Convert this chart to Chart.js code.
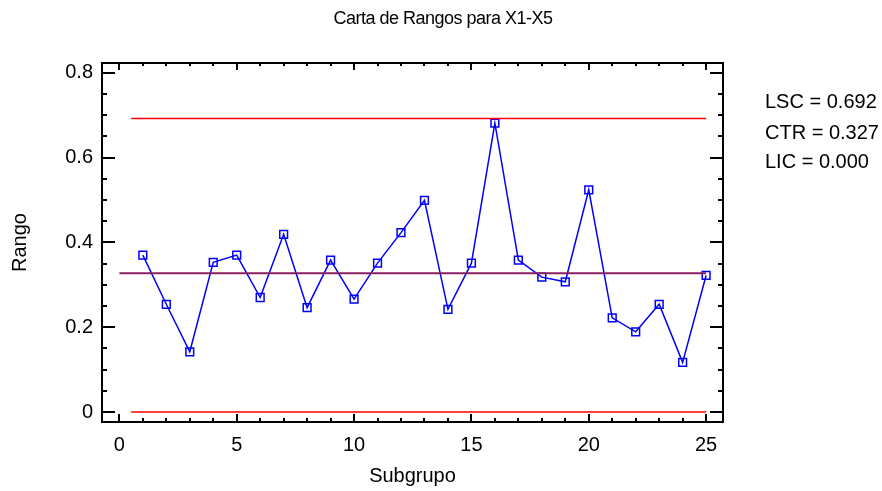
<!DOCTYPE html>
<html><head><meta charset="utf-8">
<script src="https://cdn.jsdelivr.net/npm/chart.js@4/dist/chart.umd.min.js"></script>
<style>html,body{margin:0;padding:0;background:#fff;overflow:hidden}</style>
</head><body>
<canvas id="c" width="882" height="491"></canvas>
<script>
// ---- data ----
const subgroups = [1,2,3,4,5,6,7,8,9,10,11,12,13,14,15,16,17,18,19,20,21,22,23,24,25];
const ranges = [0.370,0.254,0.142,0.353,0.370,0.270,0.419,0.246,0.358,0.266,0.351,0.423,0.499,0.242,0.351,0.681,0.358,0.318,0.307,0.524,0.222,0.189,0.254,0.117,0.322];
const lsc = 0.692, ctr = 0.327, lic = 0.000;
const limitStart = 0.5, centerStart = 0, limitEnd = 25;
const xTickValues = [0,5,10,15,20,25];
const yTickValues = [0,0.2,0.4,0.6,0.8];
const xMinorStep = 1, yMinorStep = 0.05;
const chartTitle = 'Carta de Rangos para X1-X5';
const xTitle = 'Subgrupo', yTitle = 'Rango';
const legendLabels = ['LSC', 'CTR', 'LIC'];
const legendValues = [lsc, ctr, lic];

const FONT = "'Liberation Sans', Arial, sans-serif";

const decor = {
  id: 'decor',
  afterDraw(chart) {
    const {ctx, chartArea: {left, right, top, bottom}, scales: {x, y}} = chart;
    ctx.save();
    ctx.strokeStyle = '#000';
    ctx.lineWidth = 2;
    ctx.beginPath();
    const nx = Math.round((xTickValues[xTickValues.length-1] - xTickValues[0]) / xMinorStep);
    for (let i = 0; i <= nx; i++) {
      const v = xTickValues[0] + i * xMinorStep;
      const major = xTickValues.includes(v);
      const px = Math.round(x.getPixelForValue(v));
      ctx.moveTo(px, bottom); ctx.lineTo(px, bottom - (major ? 8 : 4));
      ctx.moveTo(px, top); ctx.lineTo(px, top + (major ? 7 : 3));
    }
    const ny = Math.round((yTickValues[yTickValues.length-1] - yTickValues[0]) / yMinorStep);
    for (let i = 0; i <= ny; i++) {
      const v = yTickValues[0] + i * yMinorStep;
      const major = i % Math.round(0.2 / yMinorStep) === 0;
      const py = Math.round(y.getPixelForValue(v));
      ctx.moveTo(left, py); ctx.lineTo(left + (major ? 13 : 5), py);
      ctx.moveTo(right, py); ctx.lineTo(right - (major ? 13 : 5), py);
    }
    ctx.stroke();
    ctx.strokeRect(left, top, right - left, bottom - top);

    ctx.fillStyle = '#000';
    ctx.textBaseline = 'middle';
    ctx.textAlign = 'center';
    ctx.font = '18px ' + FONT;
    try { ctx.letterSpacing = '-0.5px'; } catch (e) {}
    ctx.fillText(chartTitle, chart.width / 2 + 2, 19);
    try { ctx.letterSpacing = '0px'; } catch (e) {}

    ctx.textAlign = 'left';
    ctx.font = '20px ' + FONT;
    const ys = [102, 133, 162];
    legendLabels.forEach((lab, i) => {
      ctx.fillText(lab + ' = ' + legendValues[i].toFixed(3), 765, ys[i]);
    });
    ctx.restore();
  }
};

new Chart(document.getElementById('c'), {
  type: 'scatter',
  data: {
    datasets: [
      {
        data: [{x: limitStart, y: lsc}, {x: limitEnd, y: lsc}],
        showLine: true, borderColor: '#ff0000', borderWidth: 1.5, pointRadius: 0
      },
      {
        data: [{x: limitStart, y: lic}, {x: limitEnd, y: lic}],
        showLine: true, borderColor: '#ff0000', borderWidth: 1.5, pointRadius: 0
      },
      {
        data: [{x: centerStart, y: ctr}, {x: limitEnd, y: ctr}],
        showLine: true, borderColor: '#8b2060', borderWidth: 2, pointRadius: 0
      },
      {
        data: subgroups.map((s, i) => ({x: s, y: ranges[i]})),
        showLine: true, borderColor: '#0000ff', borderWidth: 1.5,
        pointStyle: 'rect', pointRadius: 5.5, pointBorderWidth: 1.5,
        pointBackgroundColor: 'rgba(0,0,0,0)', pointBorderColor: '#0000ff'
      }
    ]
  },
  options: {
    responsive: false,
    animation: false,
    layout: {padding: {left: 0, right: 159, top: 63, bottom: 0}},
    plugins: {legend: {display: false}, tooltip: {enabled: false}, title: {display: false}},
    scales: {
      x: {
        type: 'linear', min: -0.74, max: 25.72,
        afterBuildTicks: s => { s.ticks = xTickValues.map(v => ({value: v})); },
        afterFit: s => { s.height = 69; },
        grid: {display: false, drawTicks: false},
        border: {display: false},
        ticks: {color: '#000', font: {family: FONT, size: 20}, padding: 11, maxRotation: 0},
        title: {display: true, text: xTitle, color: '#000', font: {family: FONT, size: 20}, padding: {top: 0, bottom: 3}}
      },
      y: {
        type: 'linear', min: -0.0236, max: 0.823,
        afterBuildTicks: s => { s.ticks = yTickValues.map(v => ({value: v})); },
        afterFit: s => { s.width = 102; },
        grid: {display: false, drawTicks: false},
        border: {display: false},
        ticks: {color: '#000', font: {family: FONT, size: 20}, padding: 9,
          callback: v => v === 0 ? '0' : v.toFixed(1)},
        title: {display: true, text: yTitle, color: '#000', font: {family: FONT, size: 20}, padding: {top: 8, bottom: 0}}
      }
    }
  },
  plugins: [decor]
});
</script>
</body></html>
